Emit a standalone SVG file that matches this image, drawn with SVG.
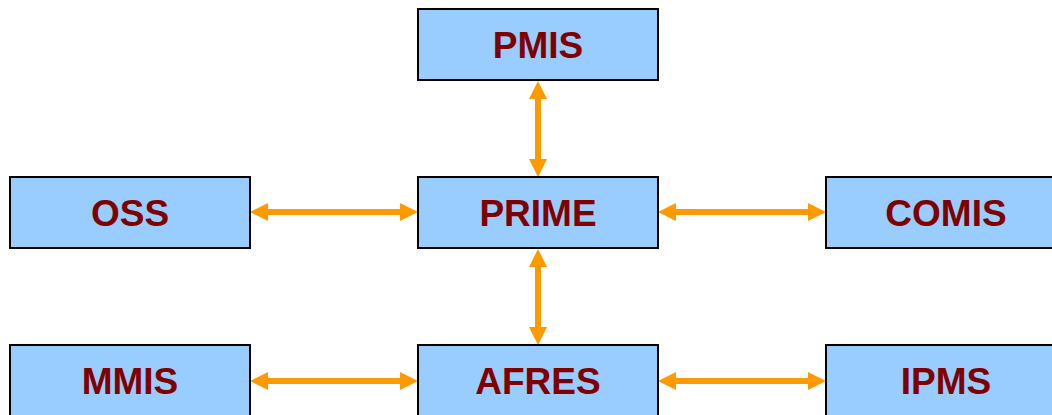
<svg xmlns="http://www.w3.org/2000/svg" width="1052" height="415" viewBox="0 0 1052 415">
<style>
.box{fill:#99CCFF;stroke:#000;stroke-width:2}
.lbl{font-family:"Liberation Sans",Arial,sans-serif;font-weight:bold;font-size:37px;fill:#800000;text-anchor:middle}
.conn{stroke:#FF9900;stroke-width:6;fill:none;marker-start:url(#ah);marker-end:url(#ah)}
</style>
<defs>
<marker id="ah" markerUnits="userSpaceOnUse" markerWidth="18" markerHeight="18" refX="1" refY="9" orient="auto-start-reverse" viewBox="0 0 18 18">
<path d="M0,0 L18,9 L0,18 z" fill="#FF9900"/>
</marker>
</defs>
<g id="connectors">
<line class="conn" x1="538" y1="98" x2="538" y2="160"/>
<line class="conn" x1="538" y1="266" x2="538" y2="328"/>
<line class="conn" x1="267" y1="212" x2="401" y2="212"/>
<line class="conn" x1="675" y1="212" x2="809" y2="212"/>
<line class="conn" x1="267" y1="381" x2="401" y2="381"/>
<line class="conn" x1="675" y1="381" x2="809" y2="381"/>
</g>
<g id="PMIS"><rect class="box" x="418" y="9" width="240" height="71"/><text class="lbl" x="538" y="58">PMIS</text></g>
<g id="OSS"><rect class="box" x="10" y="177" width="240" height="71"/><text class="lbl" x="130" y="226">OSS</text></g>
<g id="PRIME"><rect class="box" x="418" y="177" width="240" height="71"/><text class="lbl" x="538" y="226">PRIME</text></g>
<g id="COMIS"><rect class="box" x="826" y="177" width="240" height="71"/><text class="lbl" x="946" y="226">COMIS</text></g>
<g id="MMIS"><rect class="box" x="10" y="345" width="240" height="71"/><text class="lbl" x="130" y="394">MMIS</text></g>
<g id="AFRES"><rect class="box" x="418" y="345" width="240" height="71"/><text class="lbl" x="538" y="394">AFRES</text></g>
<g id="IPMS"><rect class="box" x="826" y="345" width="240" height="71"/><text class="lbl" x="946" y="394">IPMS</text></g>
</svg>
